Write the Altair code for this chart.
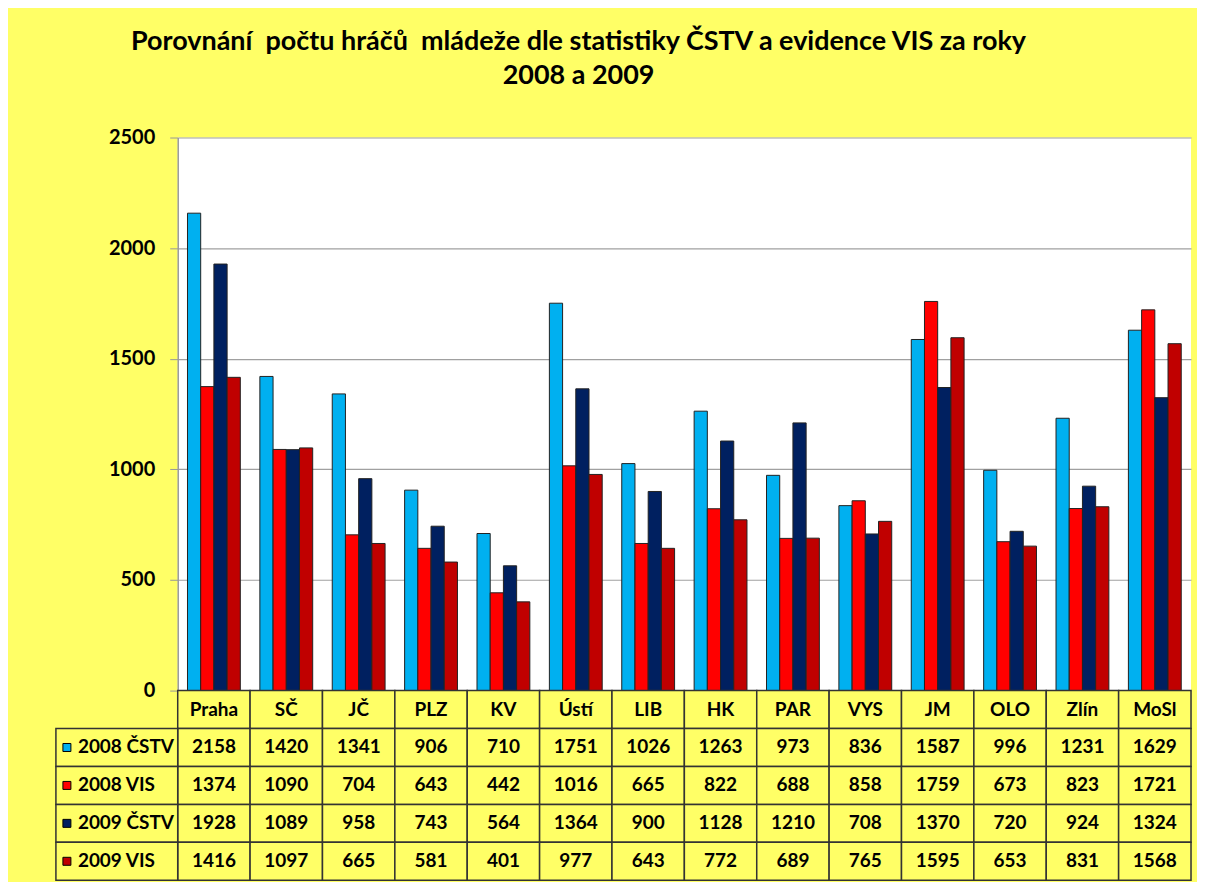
import altair as alt
import pandas as pd

regions = ["Praha", "SČ", "JČ", "PLZ", "KV", "Ústí", "LIB", "HK", "PAR", "VYS", "JM", "OLO", "Zlín", "MoSl"]
series = ["2008 ČSTV", "2008 VIS", "2009 ČSTV", "2009 VIS"]
cstv_2008 = [2158, 1420, 1341, 906, 710, 1751, 1026, 1263, 973, 836, 1587, 996, 1231, 1629]
vis_2008 = [1374, 1090, 704, 643, 442, 1016, 665, 822, 688, 858, 1759, 673, 823, 1721]
cstv_2009 = [1928, 1089, 958, 743, 564, 1364, 900, 1128, 1210, 708, 1370, 720, 924, 1324]
vis_2009 = [1416, 1097, 665, 581, 401, 977, 643, 772, 689, 765, 1595, 653, 831, 1568]
colors = ["#00B0F0", "#FF0000", "#002060", "#C00000"]
y_ticks = [0, 500, 1000, 1500, 2000, 2500]
title_lines = ["Porovnání \u00a0počtu hráčů \u00a0mládeže dle statistiky ČSTV a evidence VIS za roky", "2008 a 2009"]

FONT = "Lato"
YELLOW = "#FFFF66"

values = [cstv_2008, vis_2008, cstv_2009, vis_2009]
rows = []
for s, vals in zip(series, values):
    for r, v in zip(regions, vals):
        rows.append({"region": r, "series": s, "value": v})
df = pd.DataFrame(rows)

row_order = ["hdr"] + series
tab_rows = [{"region": r, "row": "hdr", "label": r} for r in regions]
for s, vals in zip(series, values):
    for r, v in zip(regions, vals):
        tab_rows.append({"region": r, "row": s, "label": str(v)})
tdf = pd.DataFrame(tab_rows)
sdf = pd.DataFrame({"series": series})

color_scale = alt.Scale(domain=series, range=colors)

bars = alt.Chart(df).mark_bar(stroke="#222222", strokeWidth=1).encode(
    x=alt.X("region:N", sort=regions, scale=alt.Scale(paddingInner=0.27, paddingOuter=0.135), axis=None),
    xOffset=alt.XOffset("series:N", sort=series),
    y=alt.Y("value:Q", scale=alt.Scale(domain=[0, 2500]),
            axis=alt.Axis(values=y_ticks, format="d", title=None, labelFont=FONT, labelFontWeight="bold",
                          labelFontSize=20, labelColor="black", tickColor="#999999", tickSize=8,
                          domainColor="#999999", domainWidth=1.5, gridColor="#A0A0A0", gridWidth=1.2,
                          labelPadding=15)),
    color=alt.Color("series:N", sort=series, scale=color_scale, legend=None),
).properties(
    width=1015, height=554,
    view=alt.ViewBackground(fill="white", stroke=None),
    title=alt.Title(title_lines, anchor="middle", frame="group", dx=-106, font=FONT, fontSize=27,
                    fontWeight="bold", color="black", lineHeight=34, offset=38),
)

xs = alt.X("region:N", sort=regions, scale=alt.Scale(paddingInner=0, paddingOuter=0), axis=None)
ys = alt.Y("row:N", sort=row_order, scale=alt.Scale(domain=row_order, paddingInner=0, paddingOuter=0), axis=None)
ys_s = alt.Y("series:N", sort=row_order, scale=alt.Scale(domain=row_order, paddingInner=0, paddingOuter=0), axis=None)

cells = alt.Chart(tdf).mark_rect(fill=YELLOW, stroke="#333333", strokeWidth=1.5).encode(x=xs, y=ys)
label_cells = alt.Chart(sdf).mark_rect(fill=YELLOW, stroke="#333333", strokeWidth=1.5).encode(
    x=alt.value(-122), x2=alt.value(0), y=ys_s)
cell_text = alt.Chart(tdf).mark_text(font=FONT, fontSize=19, fontWeight="bold", color="black").encode(
    x=xs, y=ys, text="label:N")
keys = alt.Chart(sdf).mark_square(size=64, stroke="black", strokeWidth=1, opacity=1).encode(
    x=alt.value(-111), y=ys_s,
    color=alt.Color("series:N", sort=series, scale=color_scale, legend=None),
)
key_text = alt.Chart(sdf).mark_text(align="left", font=FONT, fontSize=19, fontWeight="bold", color="black").encode(
    x=alt.value(-100), y=ys_s, text="series:N")

table = alt.layer(cells, label_cells, cell_text, keys, key_text).properties(
    width=1015, height=190, view=alt.ViewBackground(fill=None, stroke=None))

chart = alt.vconcat(bars, table, spacing=0, bounds="flush").resolve_scale(
    x="independent", y="independent").properties(
    background=YELLOW,
    padding={"left": 47, "top": 19, "right": 5, "bottom": 0},
).configure_view(stroke=None)

chart.save("out.html", embed_options={"renderer": "svg", "actions": False})
